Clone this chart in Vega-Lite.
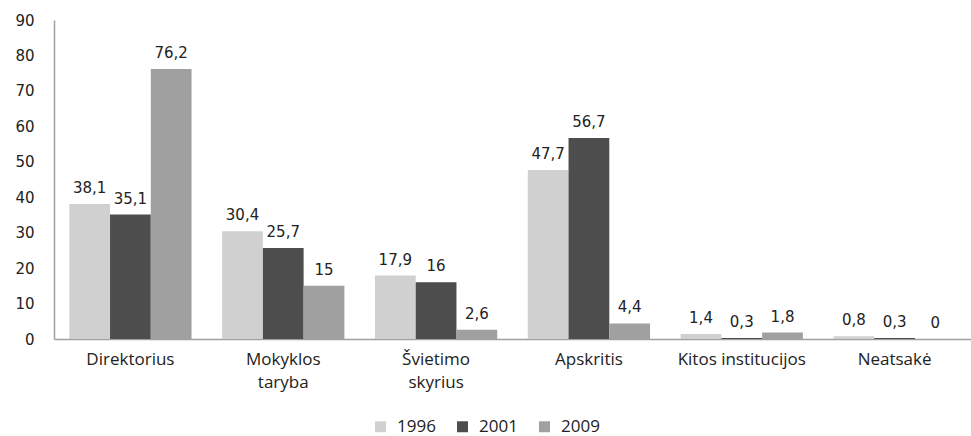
{
  "$schema": "https://vega.github.io/schema/vega-lite/v6.json",
  "autosize": "none",
  "width": 917,
  "height": 319,
  "padding": {"left": 54, "top": 20, "right": 0, "bottom": 97},
  "background": "white",
  "config": {
    "view": {"stroke": null},
    "locale": {"number": {"decimal": ",", "thousands": " ", "grouping": [3], "currency": ["", ""]}}
  },
  "data": {
    "values": [
      {"cat": "Direktorius", "year": "1996", "v": 38.1},
      {"cat": "Direktorius", "year": "2001", "v": 35.1},
      {"cat": "Direktorius", "year": "2009", "v": 76.2},
      {"cat": "Mokyklos taryba", "year": "1996", "v": 30.4},
      {"cat": "Mokyklos taryba", "year": "2001", "v": 25.7},
      {"cat": "Mokyklos taryba", "year": "2009", "v": 15},
      {"cat": "Švietimo skyrius", "year": "1996", "v": 17.9},
      {"cat": "Švietimo skyrius", "year": "2001", "v": 16},
      {"cat": "Švietimo skyrius", "year": "2009", "v": 2.6},
      {"cat": "Apskritis", "year": "1996", "v": 47.7},
      {"cat": "Apskritis", "year": "2001", "v": 56.7},
      {"cat": "Apskritis", "year": "2009", "v": 4.4},
      {"cat": "Kitos institucijos", "year": "1996", "v": 1.4},
      {"cat": "Kitos institucijos", "year": "2001", "v": 0.3},
      {"cat": "Kitos institucijos", "year": "2009", "v": 1.8},
      {"cat": "Neatsakė", "year": "1996", "v": 0.8},
      {"cat": "Neatsakė", "year": "2001", "v": 0.3},
      {"cat": "Neatsakė", "year": "2009", "v": 0}
    ]
  },
  "encoding": {
    "x": {
      "field": "cat", "type": "nominal", "sort": null,
      "scale": {"paddingInner": 0.2, "paddingOuter": 0.1},
      "axis": {
        "title": null, "labelAngle": 0, "ticks": false, "domain": true, "domainColor": "#a0a0a0", "domainWidth": 1.5,
        "labelFont": "Open Sans", "labelFontSize": 17, "labelColor": "#222", "labelPadding": 12, "labelLineHeight": 23,
        "labelExpr": "datum.label == 'Mokyklos taryba' ? ['Mokyklos', 'taryba'] : datum.label == 'Švietimo skyrius' ? ['Švietimo', 'skyrius'] : datum.label"
      }
    },
    "xOffset": {"field": "year", "type": "nominal", "scale": {"paddingInner": 0, "paddingOuter": 0}},
    "y": {
      "field": "v", "type": "quantitative",
      "scale": {"domain": [0, 90]},
      "axis": {
        "title": null, "values": [0, 10, 20, 30, 40, 50, 60, 70, 80, 90], "grid": false, "ticks": false,
        "domainColor": "#a0a0a0", "domainWidth": 1.5,
        "labelFont": "DejaVu Sans", "labelFontSize": 15, "labelColor": "#222", "labelPadding": 20
      }
    }
  },
  "layer": [
    {
      "mark": {"type": "bar"},
      "encoding": {
        "color": {
          "field": "year", "type": "nominal",
          "scale": {"domain": ["1996", "2001", "2009"], "range": ["#d0d0d0", "#4d4d4d", "#a0a0a0"]},
          "legend": {
            "title": null, "orient": "none", "direction": "horizontal", "legendX": 318, "legendY": 398,
            "symbolType": "square", "symbolSize": 120, "symbolStrokeWidth": 0,
            "labelFont": "Open Sans", "labelFontSize": 17, "labelColor": "#222", "columnPadding": 18, "labelOffset": 8
          }
        }
      }
    },
    {
      "mark": {"type": "text", "baseline": "alphabetic", "dy": -11, "font": "DejaVu Sans", "fontSize": 15, "color": "#222"},
      "encoding": {
        "text": {"field": "v", "type": "quantitative", "format": ".1~f"}
      }
    }
  ]
}
